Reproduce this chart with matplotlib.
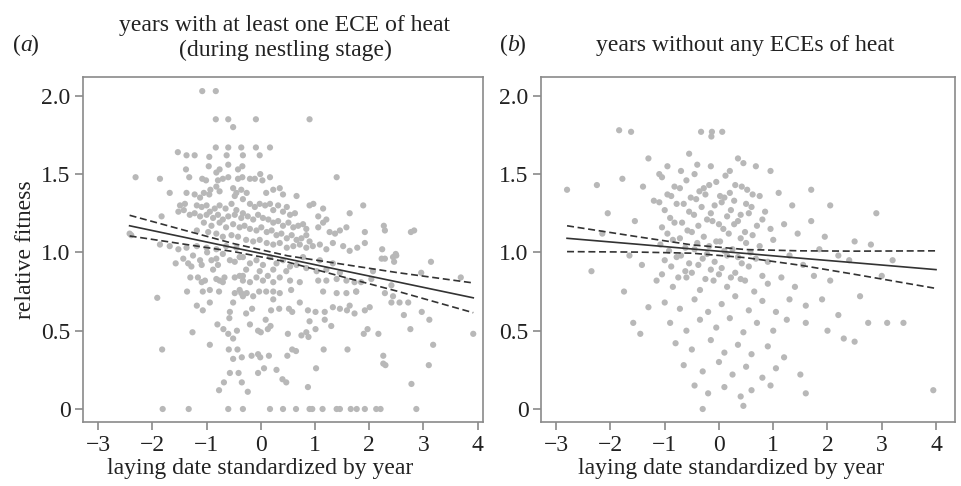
import matplotlib
matplotlib.use("Agg")
import matplotlib.pyplot as plt
import numpy as np

plt.rcParams["font.family"] = ["Liberation Serif", "DejaVu Serif"]

# panel (a): years with at least one ECE of heat
xa = [
    -1.81, -1.33, -0.60, -0.33, 0.17, 0.41, 0.65, 0.90, 0.95, 1.14, 1.40, 1.46, 1.66, 1.77, 1.92, 2.13, 2.21, 2.87,
    -1.08, -0.83, -0.83, -0.60, -0.09, 0.90, -0.51,
    -1.53, -1.37, -1.22, -0.95, -0.83, -0.60, -0.63, -0.36, -0.33, -0.09, 0.17, -0.02,
    -2.31, -1.86, -1.38, -1.32, -0.96, -1.08, -1.01, -0.82, -0.79, -0.70, -0.60, -0.42, -0.34, -0.76, -0.60, -0.42,
    -0.34, -0.20, -0.11, -0.01, 0.03, 0.17, 1.40,
    -1.68, -1.37, -1.22, -1.12, -1.05, -0.95, -0.93, -0.82, -0.76, -0.51, -0.45, -0.36, -0.48, -0.26, 0.10, 0.23, 0.35, 0.41, 0.66,
    -1.49, -1.40, -1.52, -1.42, -1.18, -1.09, -1.00, -0.94, -0.85, -0.76, -0.65, -0.54, -0.45, 0.90, 0.97, 1.15, 1.89, 1.64,
    -1.83, -1.31, -1.22, -1.12, -1.00, -0.88, -0.79, -0.70, -0.60, -0.48, -0.36,
    -1.05, -0.91, -0.76, -0.64, -0.51, -0.39,
    -1.18, -0.97, -0.82, -0.70, -0.54, -0.42,
    -2.42, -2.39,
    -1.86, -1.68, -1.52, -1.37, -1.18, -1.00, -0.82, -0.64, -0.45,
    -0.33, -0.20, -0.11, -0.02, 0.08, 0.17, 0.23, 0.32, 0.41, 0.48, 0.54, 0.63,
    -0.33, -0.24, -0.14, -0.05, 0.04, 0.14, 0.23, 0.32, 0.41, 0.51, 0.60, 0.69, 0.78, 0.84,
    -0.30, -0.20, -0.08, 0.01, 0.11, 0.20, 0.29, 0.38, 0.48, 0.57, 0.66, 0.75, 0.84, 0.90,
    -0.27, -0.14, -0.02, 0.11, 0.23, 0.35, 0.48, 0.60, 0.72, 0.84, 0.96,
    1.06, 1.15, 1.27, 1.37, 1.46, 1.58, 1.21, 1.06,
    2.27, 2.29, 1.92, 2.77, 2.83, 1.92, 1.78, 2.24, 2.49,
    1.09, 1.21, 1.33, 1.52, 1.64,
    -1.91, -1.82, -1.57,
    -1.43, -1.34, -1.28, -1.25, -1.12, -1.09, -0.99, -0.91, -0.82, -0.79, -0.70, -0.57, -0.48, -0.39,
    -1.30, -1.16, -1.09, -1.03, -0.88, -0.82, -0.76, -0.70, -0.67, -0.48, -0.39, -0.33,
    -1.36, -1.07, -0.94, -0.77, -0.48, -0.39, -0.33,
    -1.18, -1.07, -0.94, -0.51, -0.57,
    -0.58, -0.80, -1.26, -0.69, -0.60, -0.51, -0.44, -0.94, -0.59, -0.43, -0.51, -0.35, -0.57, -0.41, -0.68, -0.35, -0.77,
    -0.24, -0.05, 0.06, 0.29, 0.40, 0.47, 0.87, 1.02,
    -0.17, -0.05, -0.01, 0.15, 0.49, 0.58, 0.65, 1.16, 1.60,
    -0.05, 0.00, 0.13, 0.50, 0.75, 0.84, 0.88, 1.01,
    -0.20, 0.09, 0.18, 0.90, 1.18, 1.30,
    -0.27, -0.16, 0.19, 0.34, 0.52, 0.58, 0.72, 0.87, 1.01, 1.18, 1.33, 1.46, 1.59, 1.64, 1.73,
    -0.36, -0.26, -0.14, -0.03, 0.10, 0.23, 0.35, 0.56, 0.23, 1.15, 1.40, 1.58, 1.76,
    -0.33, -0.20, -0.08, 0.04, 0.13, 0.23, 0.35, 0.54, 0.72, 1.06, 1.21, 1.40, 1.58,
    -0.33, -0.20, -0.08, 0.04, 0.17, 0.29, 0.41, 0.54, -0.27, -0.02, 0.23, 0.47, 0.66, 0.84, 1.03, 1.21, 1.33, 1.46, 0.78, 1.09,
    2.23, 2.29, 2.44, 2.50, 2.46, 3.14, 2.96, 3.69, 1.73, 1.85, 2.04, 2.07, 1.76, 2.29, 2.41, 2.44, 2.56, 2.72, 2.41,
    1.92, 2.01, 2.64, 2.97, 3.11, 1.97, 1.90, 2.17, 2.76, 3.92, 3.18, 2.26, 2.26, 2.30, 3.10, 2.78,
]
ya = [
    0.0, 0.0, 0.0, 0.0, 0.0, 0.0, 0.0, 0.0, 0.0, 0.0, 0.0, 0.0, 0.0, 0.0, 0.0, 0.0, 0.0, 0.0,
    2.03, 2.03, 1.85, 1.85, 1.85, 1.85, 1.80,
    1.64, 1.62, 1.62, 1.61, 1.67, 1.67, 1.62, 1.67, 1.62, 1.67, 1.67, 1.62,
    1.48, 1.47, 1.53, 1.48, 1.55, 1.47, 1.46, 1.51, 1.46, 1.47, 1.48, 1.53, 1.55, 1.53, 1.56, 1.47,
    1.48, 1.47, 1.47, 1.50, 1.46, 1.48, 1.48,
    1.38, 1.38, 1.37, 1.35, 1.38, 1.37, 1.40, 1.42, 1.39, 1.41, 1.38, 1.40, 1.36, 1.38, 1.38, 1.40, 1.41, 1.37, 1.36,
    1.30, 1.31, 1.26, 1.27, 1.30, 1.29, 1.30, 1.26, 1.28, 1.30, 1.28, 1.31, 1.27, 1.30, 1.31, 1.28, 1.30, 1.25,
    1.23, 1.24, 1.25, 1.23, 1.24, 1.22, 1.24, 1.21, 1.23, 1.24, 1.22,
    1.19, 1.17, 1.19, 1.16, 1.18, 1.16,
    1.14, 1.13, 1.12, 1.10, 1.11, 1.10,
    1.12, 1.11,
    1.05, 1.04, 1.02, 1.03, 1.04, 1.03, 1.02, 1.04, 1.03,
    1.34, 1.31, 1.29, 1.31, 1.30, 1.31, 1.27, 1.30, 1.26, 1.29, 1.24, 1.25,
    1.25, 1.23, 1.21, 1.24, 1.22, 1.21, 1.19, 1.20, 1.17, 1.19, 1.16, 1.17, 1.18, 1.15,
    1.17, 1.15, 1.14, 1.16, 1.13, 1.14, 1.11, 1.12, 1.09, 1.11, 1.08, 1.09, 1.11, 1.07,
    1.08, 1.07, 1.08, 1.06, 1.05, 1.06, 1.03, 1.04, 1.05, 1.03, 1.04,
    1.16, 1.19, 1.13, 1.12, 1.14, 1.16, 1.21, 1.23,
    1.17, 1.14, 1.13, 1.13, 1.14, 1.06, 1.03, 1.02, 0.99,
    1.05, 1.02, 1.06, 1.04, 1.01,
    0.71, 0.38, 0.93,
    0.96, 0.93, 0.91, 0.98, 0.95, 0.92, 1.00, 0.95, 0.96, 0.92, 0.99, 0.95, 0.94, 0.97,
    0.84, 0.84, 0.81, 0.82, 0.89, 0.83, 0.82, 0.81, 0.84, 0.84, 0.85, 0.82,
    0.75, 0.75, 0.76, 0.75, 0.74, 0.76, 0.72,
    0.66, 0.63, 0.68, 0.68, 0.62,
    0.58, 0.54, 0.49, 0.51, 0.48, 0.45, 0.50, 0.41, 0.38, 0.38, 0.32, 0.33, 0.23, 0.23, 0.17, 0.17, 0.12,
    0.11, 0.23, 0.26, 0.25, 0.19, 0.17, 0.14, 0.26,
    0.34, 0.35, 0.33, 0.34, 0.34, 0.38, 0.37, 0.38, 0.38,
    0.50, 0.49, 0.51, 0.48, 0.47, 0.49, 0.46, 0.51,
    0.54, 0.57, 0.53, 0.56, 0.57, 0.53,
    0.61, 0.64, 0.63, 0.64, 0.64, 0.62, 0.68, 0.63, 0.62, 0.62, 0.65, 0.64, 0.63, 0.66, 0.61,
    0.74, 0.74, 0.72, 0.75, 0.75, 0.75, 0.74, 0.76, 0.70, 0.75, 0.74, 0.74, 0.75,
    0.85, 0.81, 0.84, 0.82, 0.85, 0.81, 0.84, 0.82, 0.81, 0.82, 0.82, 0.83, 0.82,
    0.97, 0.93, 0.95, 0.92, 0.97, 0.93, 0.95, 0.91, 0.89, 0.88, 0.89, 0.88, 0.92, 0.90, 0.88, 0.89, 0.93, 0.87, 0.97, 0.95,
    0.96, 0.96, 0.97, 0.98, 0.94, 0.94, 0.87, 0.84, 0.81, 0.81, 0.83, 0.88, 0.75, 0.74, 0.79, 0.72, 0.68, 0.68, 0.68,
    0.63, 0.65, 0.60, 0.62, 0.57, 0.51, 0.48, 0.48, 0.51, 0.48, 0.41, 0.34, 0.29, 0.28, 0.28, 0.16,
]

# fitted line and confidence band
fit_xa = [-2.42, -1.5, -0.5, 0.5, 1.5, 2.5, 3.92]
fit_ya = [1.170, 1.103, 1.030, 0.958, 0.885, 0.813, 0.710]
upper_a = [1.237, 1.150, 1.056, 0.978, 0.925, 0.872, 0.805]
lower_a = [1.105, 1.057, 1.005, 0.938, 0.845, 0.754, 0.615]

# panel (b): years without any ECEs of heat
xb = [
    # sparse top
    -1.84, -1.62, -0.33, -0.13, 0.06, -0.14, -1.30, -0.55, 0.45, 0.68, -0.95, -0.70, -0.15, 0.20, 0.95, -1.10, -0.40, 0.35,
    # sparse left
    -2.80, -2.25, -2.05, -1.78, -2.35, -2.15, -1.65, -1.55, -1.40, -1.75, -1.42, -1.20, -1.30, -1.58, -1.45,
    # dense core
    -1.05, -0.82, -0.60, -0.45, -0.28, -0.05, 0.12, 0.30, 0.52,
    -0.95, -0.72, -0.52, -0.36, -0.18, 0.02, 0.20, 0.42, 0.62,
    -1.10, -0.88, -0.65, -0.42, -0.25, -0.08, 0.10, 0.28, 0.50, 0.75,
    -1.00, -0.78, -0.55, -0.32, -0.15, 0.05, 0.22, 0.40, 0.60, 0.85,
    -0.90, -0.68, -0.46, -0.22, 0.00, 0.15, 0.35, 0.55, 0.80,
    -1.05, -0.82, -0.58, -0.38, -0.12, 0.08, 0.28, 0.48, 0.70, 0.95,
    -0.95, -0.72, -0.50, -0.28, -0.05, 0.18, 0.40, 0.62,
    -1.08, -0.85, -0.62, -0.40, -0.18, 0.02, 0.25, 0.50, 0.75, 1.00,
    -0.92, -0.70, -0.45, -0.22, 0.10, 0.35, 0.58,
    -1.00, -0.78, -0.55, -0.30, -0.08, 0.15, 0.42, 0.68, 0.90,
    -0.88, -0.62, -0.38, -0.15, 0.05, 0.30, 0.55,
    -1.05, -0.75, -0.50, -0.25, 0.00, 0.22, 0.48, 0.80,
    # middle band
    -1.15, -0.85, -0.60, -0.35, -0.10, 0.15, 0.40, 0.65, 0.90, 1.15, 1.40,
    -1.00, -0.72, -0.45, -0.20, 0.05, 0.30, 0.55, 0.80, 1.05, 1.30, 1.60,
    -0.90, -0.60, -0.35, -0.05, 0.20, 0.45, 0.70, 1.00, 1.25,
    # low
    -0.80, -0.50, -0.15, 0.10, 0.35, 0.60, 0.90, 1.20,
    -0.65, -0.30, 0.00, 0.25, 0.50, 0.80, 1.05, 1.50,
    -0.45, -0.20, 0.10, 0.40, 0.60, 0.95, 1.60,
    -0.30, 0.45, 3.95,
    # right
    1.10, 1.35, 1.70, 2.05, 2.90, 1.20, 1.45, 1.70, 1.95, 2.50, 2.20, 1.85, 2.40, 1.55, 1.30,
    1.90, 2.05, 2.30, 2.50, 2.75, 3.10, 3.40, 3.00, 2.00, 2.20, 1.75, 2.60, 3.20, 2.80, 1.60,
]
yb = [
    1.78, 1.77, 1.77, 1.77, 1.77, 1.74, 1.60, 1.63, 1.57, 1.55, 1.55, 1.52, 1.55, 1.52, 1.52, 1.50, 1.56, 1.60,
    1.40, 1.43, 1.25, 1.47, 0.88, 1.12, 0.98, 1.20, 1.42, 0.75, 0.92, 1.33, 0.65, 0.55, 0.48,
    1.48, 1.42, 1.46, 1.50, 1.41, 1.45, 1.49, 1.43, 1.40,
    1.37, 1.41, 1.35, 1.39, 1.43, 1.36, 1.38, 1.42, 1.37,
    1.32, 1.36, 1.31, 1.34, 1.37, 1.30, 1.35, 1.33, 1.31, 1.36,
    1.27, 1.31, 1.26, 1.29, 1.25, 1.32, 1.27, 1.24, 1.29, 1.26,
    1.22, 1.19, 1.24, 1.21, 1.18, 1.23, 1.20, 1.25, 1.21,
    1.16, 1.19, 1.14, 1.17, 1.20, 1.15, 1.18, 1.13, 1.17, 1.15,
    1.12, 1.09, 1.13, 1.10, 1.07, 1.12, 1.09, 1.11,
    1.05, 1.08, 1.03, 1.06, 1.04, 1.07, 1.02, 1.06, 1.04, 1.08,
    1.01, 0.98, 1.02, 0.99, 1.01, 0.97, 1.00,
    0.95, 0.97, 0.93, 0.96, 0.94, 0.98, 0.93, 0.96, 0.94,
    0.91, 0.88, 0.92, 0.89, 0.90, 0.87, 0.91,
    0.86, 0.84, 0.87, 0.83, 0.86, 0.84, 0.82, 0.85,
    0.82, 0.78, 0.84, 0.76, 0.82, 0.78, 0.83, 0.75, 0.80, 0.84, 0.78,
    0.68, 0.64, 0.70, 0.62, 0.67, 0.72, 0.63, 0.69, 0.62, 0.70, 0.66,
    0.55, 0.50, 0.57, 0.52, 0.58, 0.49, 0.55, 0.50, 0.57,
    0.42, 0.38, 0.44, 0.36, 0.41, 0.35, 0.40, 0.33,
    0.28, 0.24, 0.30, 0.22, 0.27, 0.20, 0.26, 0.22,
    0.15, 0.10, 0.14, 0.08, 0.12, 0.15, 0.10,
    0.00, 0.02, 0.12,
    1.38, 1.30, 1.40, 1.30, 1.25, 1.18, 1.12, 1.20, 1.10, 1.07, 0.98, 1.02, 0.95, 0.92, 0.98,
    0.70, 0.82, 0.45, 0.43, 0.55, 0.55, 0.55, 0.85, 0.50, 0.60, 0.85, 0.72, 0.95, 1.05, 0.55,
]

fit_xb = [-2.80, -1.5, -0.5, 0.5, 1.5, 2.5, 4.00]
fit_yb = [1.090, 1.052, 1.022, 0.993, 0.963, 0.934, 0.890]
upper_b = [1.170, 1.100, 1.048, 1.018, 1.010, 1.008, 1.010]
lower_b = [1.005, 1.002, 0.995, 0.966, 0.918, 0.860, 0.770]

POINT_COLOR = "#b8b8b8"
LINE_COLOR = "#333333"
SPINE_COLOR = "#8a8a8a"
TEXT_COLOR = "#222222"
FS = 17
DASH = (0, (4.2, 2.2))


def style_axes(ax, xlim, ylim, label_x):
    ax.set_xlim(*xlim)
    ax.set_ylim(*ylim)
    ax.set_xticks([-3, -2, -1, 0, 1, 2, 3, 4])
    ax.set_xticklabels(["\u22123", "\u22122", "\u22121", "0", "1", "2", "3", "4"])
    ax.set_yticks([0, 0.5, 1.0, 1.5, 2.0])
    ax.set_yticklabels(["0", "0.5", "1.0", "1.5", "2.0"])
    for spine in ax.spines.values():
        spine.set_color(SPINE_COLOR)
        spine.set_linewidth(1.2)
    ax.tick_params(direction="out", length=6, width=1.2, color=SPINE_COLOR,
                   labelsize=FS, labelcolor=TEXT_COLOR, pad=3)
    ax.set_xlabel("laying date standardized by year", fontsize=FS, color=TEXT_COLOR)
    ax.xaxis.set_label_coords(label_x, -0.105)


def draw_panel(ax, x, y, fx, fy, up, lo):
    ax.scatter(x, y, s=20, color=POINT_COLOR, edgecolors="none", zorder=2)
    ax.plot(fx, fy, color=LINE_COLOR, lw=1.2, zorder=3)
    ax.plot(fx, up, color=LINE_COLOR, lw=1.2, ls=DASH, zorder=3)
    ax.plot(fx, lo, color=LINE_COLOR, lw=1.2, ls=DASH, zorder=3)


def panel_tag(fig, x, y, letter):
    fig.text(x, y, "(", ha="left", va="baseline", fontsize=FS, color=TEXT_COLOR)
    fig.text(x + 7 / 962, y, letter, ha="left", va="baseline", fontsize=FS,
             color=TEXT_COLOR, style="italic")
    fig.text(x + 17 / 962, y, ")", ha="left", va="baseline", fontsize=FS, color=TEXT_COLOR)


def main():
    fig = plt.figure(figsize=(9.62, 4.86), dpi=100)
    ax_a = fig.add_axes([83 / 962, 64 / 486, 400 / 962, 345 / 486])
    ax_b = fig.add_axes([541 / 962, 64 / 486, 414 / 962, 345 / 486])

    draw_panel(ax_a, xa, ya, fit_xa, fit_ya, upper_a, lower_a)
    style_axes(ax_a, (-3.28, 4.10), (-0.083, 2.12), 0.443)
    ax_a.set_ylabel("relative fitness", fontsize=FS, color=TEXT_COLOR, labelpad=4)

    draw_panel(ax_b, xb, yb, fit_xb, fit_yb, upper_b, lower_b)
    style_axes(ax_b, (-3.28, 4.35), (-0.083, 2.12), 0.459)

    fig.text(285 / 962, 1 - 31 / 486, "years with at least one ECE of heat", ha="center",
             va="baseline", fontsize=FS, color=TEXT_COLOR)
    fig.text(285 / 962, 1 - 56 / 486, "(during nestling stage)", ha="center",
             va="baseline", fontsize=FS, color=TEXT_COLOR)
    panel_tag(fig, 13 / 962, 1 - 51 / 486, "a")
    fig.text(745 / 962, 1 - 51 / 486, "years without any ECEs of heat", ha="center",
             va="baseline", fontsize=FS, color=TEXT_COLOR)
    panel_tag(fig, 500 / 962, 1 - 51 / 486, "b")

    fig.savefig("out.png", dpi=100)
    plt.close(fig)


if __name__ == "__main__":
    main()
